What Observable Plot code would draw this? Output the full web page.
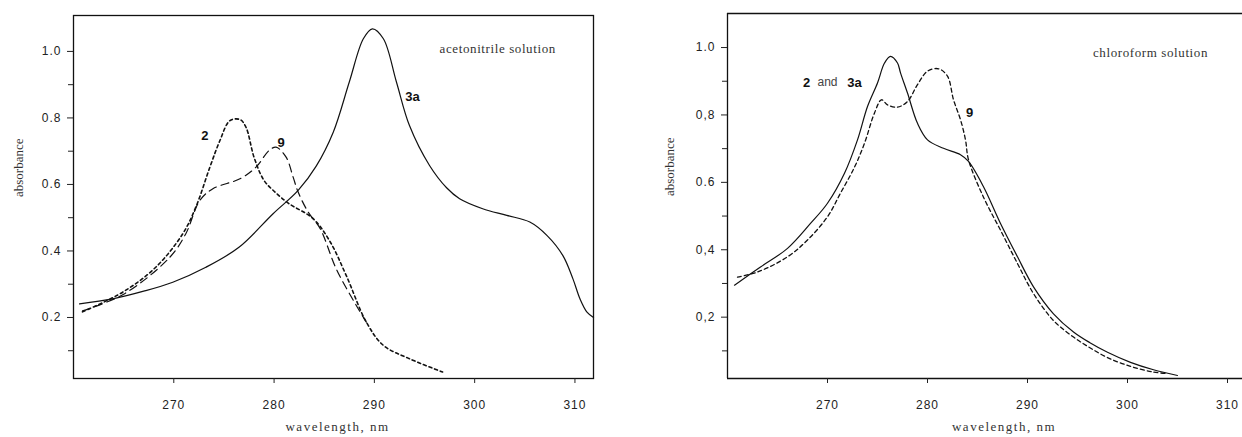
<!DOCTYPE html>
<html>
<head>
<meta charset="utf-8">
<script src="https://cdn.jsdelivr.net/npm/d3@7"></script>
<script src="https://cdn.jsdelivr.net/npm/@observablehq/plot@0.6"></script>
<style>
  html, body { margin: 0; padding: 0; background: #fff; }
  #wrap { position: relative; width: 1242px; height: 437px; overflow: hidden; background: #fff; }
  #left, #right { position: absolute; top: 0; }
  #left { left: 0; }
  #right { left: 620px; }
  svg [aria-label$="tick label"] text { letter-spacing: 1px; }
</style>
</head>
<body>
<div id="wrap"><div id="left"></div><div id="right"></div></div>
<script>
// ---------- tick values and labels ----------
const yTickValues = [0.2, 0.4, 0.6, 0.8, 1.0];
const yMinorTicks = [0.1, 0.3, 0.5, 0.7, 0.9];
const leftYTickLabels = ["0.2", "0.4", "0.6", "0.8", "1.0"];
const rightYTickLabels = ["0,2", "0,4", "0.6", "0,8", "1.0"];
const xTickValues = [270, 280, 290, 300, 310];
const xTickLabels = ["270", "280", "290", "300", "310"];

// ---------- acetonitrile solution (left) ----------
const acnWl3a = [260.6, 263.9, 267.0, 269.9, 273.2, 276.5, 279.9, 282.4, 284.2, 285.9, 287.5, 288.9, 289.8, 290.9, 292.2, 293.5, 295.5, 297.2, 298.5, 300.8, 303.2, 305.5, 307.2, 308.8, 309.8, 310.5, 311.2, 311.85];
const acnAbs3a = [0.241, 0.256, 0.279, 0.306, 0.351, 0.411, 0.512, 0.582, 0.655, 0.757, 0.908, 1.038, 1.068, 1.038, 0.908, 0.777, 0.657, 0.590, 0.557, 0.527, 0.507, 0.487, 0.447, 0.386, 0.316, 0.256, 0.216, 0.200];

const acnWl2 = [260.9, 264.9, 268.2, 270.9, 272.2, 273.6, 274.6, 275.6, 276.6, 277.2, 278.0, 279.0, 280.1, 281.5, 283.9, 285.6, 287.2, 289.2, 290.9, 293.5, 296.8];
const acnAbs2 = [0.217, 0.276, 0.351, 0.452, 0.532, 0.652, 0.732, 0.792, 0.795, 0.772, 0.682, 0.612, 0.577, 0.542, 0.497, 0.427, 0.326, 0.186, 0.116, 0.076, 0.036];

const acnWl9 = [260.9, 265.0, 269.6, 271.2, 272.6, 273.9, 276.6, 278.2, 279.5, 280.2, 281.2, 281.9, 282.4, 283.4, 284.6, 286.2, 288.2, 289.2];
const acnAbs9 = [0.220, 0.270, 0.381, 0.452, 0.552, 0.587, 0.617, 0.652, 0.702, 0.712, 0.682, 0.622, 0.577, 0.517, 0.467, 0.346, 0.236, 0.186];

// ---------- chloroform solution (right) ----------
const chlWl23a = [260.7, 263.3, 266.0, 268.3, 270.0, 271.7, 273.0, 274.0, 275.0, 275.7, 276.3, 277.0, 277.3, 278.0, 279.0, 280.0, 281.6, 283.3, 284.1, 285.6, 287.3, 289.0, 290.6, 292.6, 294.6, 296.2, 298.0, 300.3, 302.6, 305.0];
const chlAbs23a = [0.295, 0.349, 0.404, 0.478, 0.538, 0.627, 0.726, 0.825, 0.895, 0.954, 0.974, 0.954, 0.925, 0.865, 0.775, 0.726, 0.701, 0.682, 0.662, 0.587, 0.478, 0.379, 0.290, 0.210, 0.156, 0.125, 0.096, 0.066, 0.044, 0.027];

const chlWl9 = [261.0, 263.0, 266.0, 268.0, 270.0, 271.3, 272.7, 273.7, 274.7, 275.4, 276.0, 277.0, 278.0, 279.0, 280.0, 281.1, 282.0, 282.6, 283.3, 283.8, 284.1, 285.6, 287.3, 289.0, 290.6, 292.6, 294.6, 296.2, 298.0, 300.3, 302.6, 304.0];
const chlAbs9 = [0.319, 0.334, 0.379, 0.429, 0.498, 0.568, 0.645, 0.716, 0.806, 0.845, 0.830, 0.823, 0.840, 0.890, 0.930, 0.937, 0.915, 0.845, 0.786, 0.726, 0.667, 0.556, 0.458, 0.359, 0.270, 0.190, 0.141, 0.110, 0.080, 0.054, 0.037, 0.033];

// ---------- annotations (text, wavelength, absorbance) ----------
const acnLabels = [
  {t: "2", x: 273.1, y: 0.747},
  {t: "9", x: 280.7, y: 0.726},
  {t: "3a", x: 293.8, y: 0.862}
];
const acnTitle = [{t: "acetonitrile solution", x: 302.3, y: 1.009}];
const chlLabelsBold = [
  {t: "2", x: 267.9, y: 0.896},
  {t: "3a", x: 272.7, y: 0.896},
  {t: "9", x: 284.2, y: 0.807}
];
const chlLabelsLight = [{t: "and", x: 270.0, y: 0.896}];
const chlTitle = [{t: "chloroform solution", x: 302.3, y: 0.985}];

const rows = (xs, ys) => xs.map((x, i) => ({x, y: ys[i]}));
const SANS = "'Liberation Sans', Arial, sans-serif";
const SERIF = "'Liberation Serif', 'Times New Roman', serif";

function axes(yLabels, xLabelDx) {
  return [
    Plot.axisY(yTickValues, {tickSize: 6, tickPadding: 6, label: null, color: "#222",
      tickFormat: d => yLabels[yTickValues.indexOf(d)], fontSize: 12}),
    Plot.axisY(yMinorTicks, {tickSize: 5, tickFormat: () => "", label: null, color: "#222"}),
    Plot.axisX(xTickValues, {tickSize: 5, tickPadding: 17, label: null, color: "#222",
      tickFormat: d => xTickLabels[xTickValues.indexOf(d)], fontSize: 12}),
    Plot.text(["absorbance"], {frameAnchor: "left", rotate: -90, dx: 0, text: d => d,
      fontFamily: SERIF, fontSize: 13, fill: "#333"}),
    Plot.text(["wavelength, nm"], {frameAnchor: "bottom", dx: xLabelDx, dy: 52, text: d => d,
      fontFamily: SERIF, fontSize: 13, fill: "#333"})
  ];
}

const leftX = [260, 311.85], leftY = [0.0165, 1.108];
const rightX = [260, 311.5], rightY = [0.018, 1.101];

const left = Plot.plot({
  width: 620, height: 437,
  marginLeft: 73, marginRight: 27, marginTop: 15, marginBottom: 59,
  x: {domain: leftX},
  y: {domain: leftY},
  style: {fontFamily: SANS, fontSize: "12px", background: "white", color: "#222"},
  marks: [
    Plot.frame({stroke: "#111", strokeWidth: 1.3}),
    ...axes(leftYTickLabels, 4),
    Plot.line(rows(acnWl3a, acnAbs3a), {x: "x", y: "y", curve: "catmull-rom", stroke: "#111", strokeWidth: 1.2}),
    Plot.line(rows(acnWl2, acnAbs2), {x: "x", y: "y", curve: "catmull-rom", stroke: "#111", strokeWidth: 1.6, strokeDasharray: "3,3"}),
    Plot.line(rows(acnWl9, acnAbs9), {x: "x", y: "y", curve: "catmull-rom", stroke: "#111", strokeWidth: 1.2, strokeDasharray: "8,5"}),
    Plot.text(acnLabels, {x: "x", y: "y", text: "t", fontWeight: "bold", fontSize: 13, fill: "#111"}),
    Plot.text(acnTitle, {x: "x", y: "y", text: "t", fontFamily: SERIF, fontSize: 13, fill: "#333"})
  ]
});

const right = Plot.plot({
  width: 622, height: 437,
  marginLeft: 107, marginRight: 0, marginTop: 13, marginBottom: 59,
  x: {domain: rightX},
  y: {domain: rightY},
  style: {fontFamily: SANS, fontSize: "12px", background: "white", color: "#222"},
  marks: [
    Plot.ruleY([rightY[1]], {stroke: "#111", strokeWidth: 1.3}),
    Plot.ruleY([rightY[0]], {stroke: "#111", strokeWidth: 1.3}),
    Plot.ruleX([rightX[0]], {stroke: "#111", strokeWidth: 1.3}),
    ...axes(rightYTickLabels, 19),
    Plot.line(rows(chlWl23a, chlAbs23a), {x: "x", y: "y", curve: "catmull-rom", stroke: "#111", strokeWidth: 1.2}),
    Plot.line(rows(chlWl9, chlAbs9), {x: "x", y: "y", curve: "catmull-rom", stroke: "#111", strokeWidth: 1.3, strokeDasharray: "4,3"}),
    Plot.text(chlLabelsBold, {x: "x", y: "y", text: "t", fontWeight: "bold", fontSize: 13, fill: "#111"}),
    Plot.text(chlLabelsLight, {x: "x", y: "y", text: "t", fontSize: 12, fill: "#444"}),
    Plot.text(chlTitle, {x: "x", y: "y", text: "t", fontFamily: SERIF, fontSize: 13, fill: "#333"})
  ]
});

document.getElementById("left").appendChild(left);
document.getElementById("right").appendChild(right);

// position the rotated y labels and spacing of serif captions
for (const [svg, xCenter] of [[left, 18.5], [right, 49]]) {
  svg.querySelectorAll("text").forEach(t => {
    const s = t.textContent;
    if (s === "absorbance") {
      t.setAttribute("transform", t.getAttribute("transform").replace(/translate\(([-\d.]+),([-\d.]+)\)/, (m, a, b) => `translate(${xCenter},${b})`));
    }
    if (s === "wavelength, nm") t.style.letterSpacing = "1.5px";
    if (s === "acetonitrile solution" || s === "chloroform solution") t.style.letterSpacing = "0.6px";
  });
}
</script>
</body>
</html>
